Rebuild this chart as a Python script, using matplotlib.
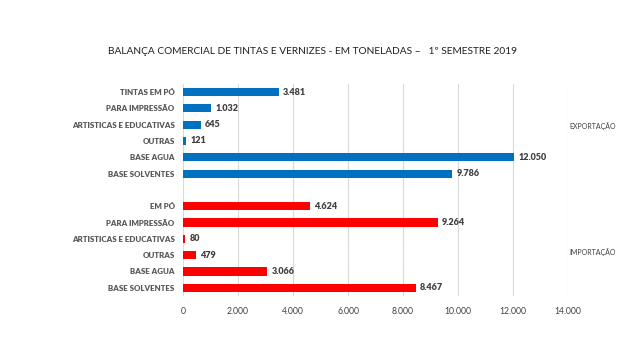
import matplotlib
matplotlib.use("Agg")
import matplotlib.pyplot as plt
from matplotlib import font_manager

exp_cats = ["TINTAS EM PÓ", "PARA IMPRESSÃO", "ARTISTICAS E EDUCATIVAS", "OUTRAS", "BASE AGUA", "BASE SOLVENTES"]
exp_vals = [3481, 1032, 645, 121, 12050, 9786]
imp_cats = ["EM PÓ", "PARA IMPRESSÃO", "ARTISTICAS E EDUCATIVAS", "OUTRAS", "BASE AGUA", "BASE SOLVENTES"]
imp_vals = [4624, 9264, 80, 479, 3066, 8467]
xticks = [0, 2000, 4000, 6000, 8000, 10000, 12000, 14000]
title = "BALANÇA COMERCIAL DE TINTAS E VERNIZES - EM TONELADAS –   1º SEMESTRE 2019"

print(sorted({(f.name, f.weight) for f in font_manager.fontManager.ttflist if f.name == "Lato"}))

plt.rcParams['font.family'] = ['Lato', 'DejaVu Sans']

fig = plt.figure(figsize=(6.4, 3.6), dpi=100)
ax = fig.add_axes([0.286, 0.178, 0.6015, 0.589])

def fmt(v):
    return f"{v:,}".replace(",", ".")

n = len(exp_cats)
labels = exp_cats + [""] + imp_cats
vals = exp_vals + [None] + imp_vals
colors = ["#0070C0"] * n + [None] + ["#FF0000"] * n
ypos = list(range(len(labels)))
for y, v, c in zip(ypos, vals, colors):
    if v is None:
        continue
    ax.barh(y, v, height=0.5, color=c, zorder=3)
    ax.text(v + 150, y, fmt(v), va="center", ha="left", fontsize=6.5,
            fontweight="heavy", color="#404040")

ax.set_ylim(len(labels) - 0.5, -0.5)
ax.set_xlim(0, 14000)
ax.set_yticks(ypos)
ax.set_yticklabels(labels, fontsize=5.7, fontweight="heavy", color="#595959")
ax.set_xticks(xticks)
ax.set_xticklabels([fmt(t) for t in xticks], fontsize=6.2, color="#404040")
ax.tick_params(axis="both", length=0, pad=8)
ax.tick_params(axis="y", pad=6)
ax.grid(axis="x", color="#D9D9D9", linewidth=0.8, zorder=0)
for s in ax.spines.values():
    s.set_visible(False)

fig.text(569 / 640, 1 - 126 / 360, "EXPORTAÇÃO", fontsize=5, color="#404040", va="center", ha="left")
fig.text(569 / 640, 1 - 252 / 360, "IMPORTAÇÃO", fontsize=5, color="#404040", va="center", ha="left")

fig.text(313 / 640, 1 - 52 / 360, title, fontsize=7.3, color="#202020", ha="center", va="center")

fig.savefig("out.png", dpi=100, facecolor="white")
